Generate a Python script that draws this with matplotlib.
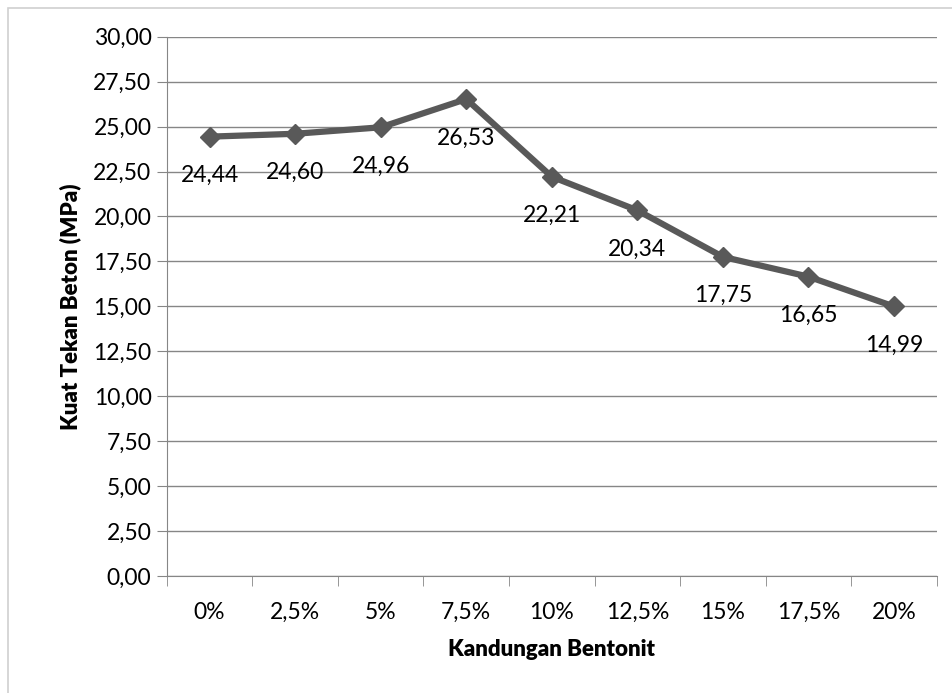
import matplotlib
matplotlib.use('agg')
import matplotlib.pyplot as plt
from matplotlib.patches import Rectangle

# data
kategori = ["0%", "2,5%", "5%", "7,5%", "10%", "12,5%", "15%", "17,5%", "20%"]
kuat_tekan = [24.44, 24.60, 24.96, 26.53, 22.21, 20.34, 17.75, 16.65, 14.99]
y_ticks = [0, 2.5, 5, 7.5, 10, 12.5, 15, 17.5, 20, 22.5, 25, 27.5, 30]

plt.rcParams['font.family'] = ['Lato', 'DejaVu Sans']

fig = plt.figure(figsize=(9.53, 6.93), dpi=100)
ax = fig.add_axes([0.175, 0.169, 0.808, 0.778])

# outer chart border
fig.patches.append(Rectangle((8/953, -0.1), 1.1, 1 - 8/693 + 0.1, transform=fig.transFigure,
                             fill=False, edgecolor='#d0d0d0', linewidth=1.2))

x = list(range(len(kategori)))
ax.plot(x, kuat_tekan, color='#595959', linewidth=4.5, marker='D', markersize=10,
        zorder=3, solid_joinstyle='round')

for xi, v in zip(x, kuat_tekan):
    ax.annotate(("%.2f" % v).replace('.', ','), (xi, v), xytext=(0, -28),
                textcoords='offset points', ha='center', va='center', fontsize=16.5)

ax.set_xlim(-0.5, len(kategori) - 0.5)
ax.set_ylim(0, 30)
ax.set_yticks(y_ticks)
ax.set_yticklabels([("%.2f" % t).replace('.', ',') for t in y_ticks], fontsize=16.5)
ax.set_xticks(x)
ax.set_xticklabels(kategori, fontsize=16.5)
ax.set_xticks([i - 0.5 for i in range(len(kategori) + 1)], minor=True)
ax.tick_params(axis='x', which='major', length=0, pad=19)
ax.tick_params(axis='x', which='minor', length=7, color='#868686')
ax.tick_params(axis='y', length=7, color='#868686', pad=4)

ax.grid(axis='y', color='#868686', linewidth=1)
ax.set_axisbelow(True)
for s in ['top', 'right']:
    ax.spines[s].set_visible(False)
ax.spines['left'].set_color('#868686')
ax.spines['bottom'].set_color('#868686')

ax.set_ylabel('Kuat Tekan Beton (MPa)', fontsize=16, fontweight='heavy', labelpad=9)
ax.set_xlabel('Kandungan Bentonit', fontsize=16, fontweight='heavy', labelpad=11)

fig.savefig('out.png', dpi=100)
